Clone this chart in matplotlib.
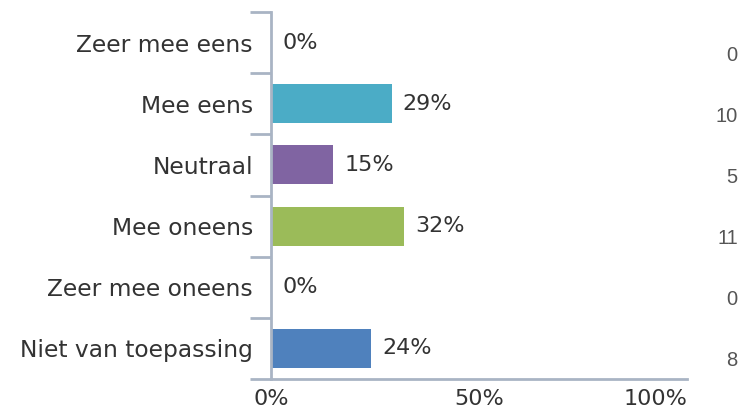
import matplotlib.pyplot as plt
import numpy as np

categories = ["Zeer mee eens", "Mee eens", "Neutraal", "Mee oneens",
              "Zeer mee oneens", "Niet van toepassing"]
percentages = [0, 29, 15, 32, 0, 24]
counts = [0, 10, 5, 11, 0, 8]
colors = ["#4bacc6", "#4bacc6", "#8064a2", "#9bbb59", "#9bbb59", "#4f81bd"]
axis_color = "#a9b4c4"
text_color = "#333333"

fig = plt.figure(figsize=(7.42, 4.13), dpi=100)
ax = fig.add_axes([271 / 742, 1 - 379 / 413, 416 / 742, 367 / 413])

y = np.arange(len(categories))
ax.barh(y, percentages, height=0.64, color=colors, edgecolor="none")

for yi, p in zip(y, percentages):
    ax.annotate(f"{p}%", (p, yi), xytext=(8, 0), textcoords="offset points",
                va="center", ha="left", fontsize=16, color=text_color)

# counts column at the right edge of the figure
for yi, c in zip(y, counts):
    ax.annotate(str(c), (1.0, yi), xycoords=("figure fraction", "data"),
                xytext=(-3, -9), textcoords="offset points",
                va="center", ha="right", fontsize=14.5, color="#555555",
                family="Liberation Sans")

ax.set_xlim(0, 100)
ax.set_ylim(len(categories) - 0.5, -0.5)

ax.set_yticks(y)
ax.set_yticklabels(categories, fontsize=16.8, color=text_color)
ax.set_yticks(np.arange(len(categories) + 1) - 0.5, minor=True)
ax.tick_params(axis="y", which="major", length=0, pad=13)
ax.tick_params(axis="y", which="minor", length=15, width=2, color=axis_color)

ax.set_xticks([0, 50, 100])
ax.set_xticklabels(["0%", "50%", "100%"], fontsize=16, color=text_color)
ax.get_xticklabels()[-1].set_ha("right")
ax.tick_params(axis="x", length=0, pad=7)

for side in ["top", "right"]:
    ax.spines[side].set_visible(False)
for side in ["left", "bottom"]:
    ax.spines[side].set_color(axis_color)
    ax.spines[side].set_linewidth(2)

fig.savefig("out.png", dpi=100)
